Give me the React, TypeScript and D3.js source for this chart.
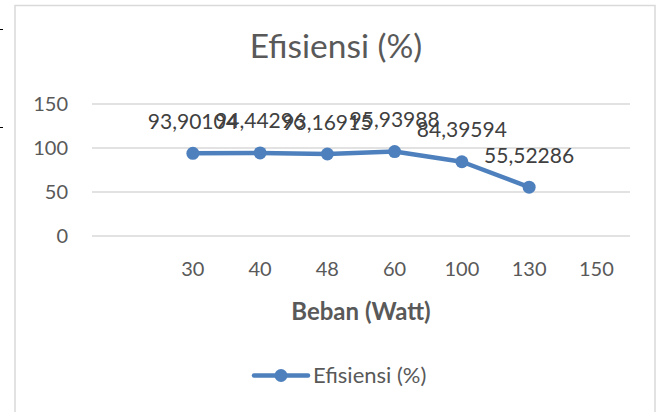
import React from "react";
import * as d3 from "d3";

const categories = ["", "30", "40", "48", "60", "100", "130", "150"];
const efisiensi: (number | null)[] = [null, 93.90104, 94.44296, 93.16915, 95.93988, 84.39594, 55.52286, null];
const labelTexts: (string | null)[] = [null, "93,90104", "94,44296", "93,16915", "95,93988", "84,39594", "55,52286", null];
const yTicks = [0, 50, 100, 150];

const W = 663;
const H = 412;
const FONT = "Lato, 'Open Sans', sans-serif";
const TEXT = "#595959";
const BLUE = "#4e80bd";

export default function App() {
  const x = d3.scaleBand<string>().domain(categories).range([92, 630]).paddingInner(0).paddingOuter(0);
  const y = d3.scaleLinear().domain([0, 150]).range([236, 104]);
  const cx = (c: string) => (x(c) ?? 0) + x.bandwidth() / 2;

  const pts = categories
    .map((c, i) => ({ c, v: efisiensi[i], lab: labelTexts[i] }))
    .filter((d) => d.v !== null) as { c: string; v: number; lab: string }[];

  const line = d3
    .line<{ c: string; v: number }>()
    .x((d) => cx(d.c))
    .y((d) => y(d.v));

  return (
    <svg
      width={W}
      height={H}
      style={{ position: "absolute", left: 0, top: 0, background: "#fff" }}
    >
      <rect x={0} y={0} width={W} height={H} fill="#fff" />
      <line x1={0} x2={3} y1={29.5} y2={29.5} stroke="#000" strokeWidth={1} />
      <line x1={0} x2={3} y1={127.5} y2={127.5} stroke="#000" strokeWidth={1} />
      <rect x={15} y={5.5} width={640} height={420} fill="none" stroke="#d9d9d9" strokeWidth={1.5} />

      <text x={336} y={58} textAnchor="middle" fill={TEXT} fontFamily={FONT} fontSize={33.5}>
        Efisiensi (%)
      </text>

      {yTicks.map((t) => (
        <g key={t}>
          <line x1={92} x2={630} y1={y(t)} y2={y(t)} stroke="#d9d9d9" strokeWidth={1.5} />
          <text x={68} y={y(t)} dy="0.36em" textAnchor="end" fill={TEXT} fontFamily={FONT} fontSize={20}>
            {t}
          </text>
        </g>
      ))}

      {categories.map((c) => (
        <text key={"xl" + c} x={cx(c)} y={276} textAnchor="middle" fill={TEXT} fontFamily={FONT} fontSize={20}>
          {c}
        </text>
      ))}

      <text x={361} y={320} textAnchor="middle" fill={TEXT} fontFamily={FONT} fontSize={24} fontWeight="bold">
        Beban (Watt)
      </text>

      <path d={line(pts) ?? ""} fill="none" stroke={BLUE} strokeWidth={4.5} strokeLinejoin="round" strokeLinecap="round" />
      {pts.map((d) => (
        <circle key={"p" + d.c} cx={cx(d.c)} cy={y(d.v)} r={6.5} fill={BLUE} />
      ))}
      {pts.map((d) => (
        <text key={"l" + d.c} x={cx(d.c)} y={y(d.v) - 24.5} textAnchor="middle" fill="#404040" fontFamily={FONT} fontSize={21}>
          {d.lab}
        </text>
      ))}

      <line x1={254} x2={308} y1={375.5} y2={375.5} stroke={BLUE} strokeWidth={4.5} strokeLinecap="round" />
      <circle cx={281} cy={375.5} r={6.5} fill={BLUE} />
      <text x={313} y={375.5} dy="0.36em" fill={TEXT} fontFamily={FONT} fontSize={22}>
        Efisiensi (%)
      </text>
    </svg>
  );
}
